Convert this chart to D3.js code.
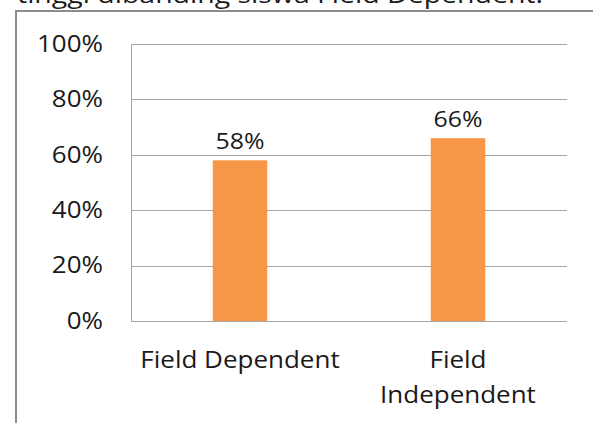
<!DOCTYPE html>
<html>
<head>
<meta charset="utf-8">
<script src="https://cdn.jsdelivr.net/npm/d3@7"></script>
<style>
  body { margin: 0; background: #fff; }
  text { font-family: "Open Sans", sans-serif; fill: #1a1a1a; }
</style>
</head>
<body>
<svg id="chart" width="593" height="423"></svg>
<script>
// data
var categories = ["Field Dependent", "Field Independent"];
var categoryLines = [["Field Dependent"], ["Field", "Independent"]];
var values = [0.58, 0.66];
var yTicks = [0, 0.2, 0.4, 0.6, 0.8, 1.0];
var headText = "tinggi dibanding siswa Field Dependent.";

var width = 593, height = 423,
    plotLeft = 131, plotRight = 567, plotTop = 44, plotBottom = 321,
    stretch = 1.13; // glyphs in the picture are a bit wider than the font

var svg = d3.select("#chart");

//cut-off line of the text above the chart
svg.append("text")
    .attr("x", 17)
    .attr("y", 3)
    .attr("textLength", 526)
    .attr("lengthAdjust", "spacingAndGlyphs")
    .style("font-size", "24px")
    .text(headText);

//frame around the chart
svg.append("path")
    .attr("d", "M16," + height + "V11H" + width)
    .attr("fill", "none")
    .attr("stroke", "#8c8c8c")
    .attr("stroke-width", 2);

var x = d3.scaleBand()
    .domain(categories)
    .range([plotLeft, plotRight]);

var y = d3.scaleLinear()
    .domain([0, 1])
    .range([plotBottom, plotTop]);

//gridlines + y labels
var yAxis = svg.append("g")
    .attr("transform", "translate(" + plotLeft + ",0)")
    .call(d3.axisLeft(y)
        .tickValues(yTicks)
        .tickSize(-(plotRight - plotLeft))
        .tickPadding(28)
        .tickFormat(d3.format(".0%"))
    );

yAxis.select(".domain").remove();
yAxis.selectAll(".tick line")
    .attr("stroke", "#a6a6a6")
    .attr("shape-rendering", "crispEdges");
yAxis.selectAll(".tick text")
    .attr("x", -28 / stretch)
    .attr("transform", "scale(" + stretch + ",1)")
    .attr("fill", "#1a1a1a")
    .style("font-size", "23px")
    .style("font-family", "'Open Sans', sans-serif");

//left axis line
svg.append("line")
    .attr("x1", plotLeft).attr("x2", plotLeft)
    .attr("y1", y(1)).attr("y2", y(0))
    .attr("stroke", "#a6a6a6")
    .attr("shape-rendering", "crispEdges");

//bars
var barW = x.bandwidth() * 0.25;
svg.selectAll("rect.bar")
    .data(values)
    .enter()
    .append("rect")
        .attr("class", "bar")
        .attr("x", function(d, i) { return x(categories[i]) + (x.bandwidth() - barW) / 2; })
        .attr("y", function(d) { return y(d); })
        .attr("width", barW)
        .attr("height", function(d) { return y(0) - y(d); })
        .attr("fill", "#F79646");

//value labels
svg.selectAll("text.val")
    .data(values)
    .enter()
    .append("text")
        .attr("class", "val")
        .attr("transform", function(d, i) {
            return "translate(" + (x(categories[i]) + x.bandwidth() / 2) + "," + (y(d) - 11) + ") scale(" + stretch + ",1)";
        })
        .attr("text-anchor", "middle")
        .style("font-size", "22px")
        .text(function(d) { return Math.round(d * 100) + "%"; });

//category labels
categoryLines.forEach(function(lines, i) {
    var cx = x(categories[i]) + x.bandwidth() / 2;
    lines.forEach(function(line, j) {
        svg.append("text")
            .attr("transform", "translate(" + cx + "," + (368 + j * 35) + ") scale(" + stretch + ",1)")
            .attr("text-anchor", "middle")
            .style("font-size", "23px")
            .text(line);
    });
});
</script>
</body>
</html>
